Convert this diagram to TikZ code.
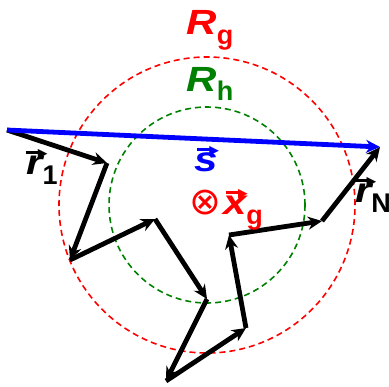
\documentclass[tikz,border=0pt]{standalone}
\usepackage{fontspec}
\setmainfont{Liberation Sans}
\newfontfamily\symfont{DejaVu Sans}
\usetikzlibrary{arrows.meta}
% wide italic letter, with an arrow over it for vectors
\newcommand{\wideletter}[1]{\scalebox{1.2}[1]{\itshape #1}}
\newcommand{\vecarrow}{\rule{0.42em}{0.08em}\kern-0.07em%
  \raisebox{-0.1em}{\scalebox{0.36}{\symfont ▶}}}
\newcommand{\vecsym}[1]{\ooalign{\wideletter{#1}\cr
  \hidewidth\kern0.12em\raisebox{0.58em}{\vecarrow}\hidewidth\cr}}
\newcommand{\lowsub}[1]{\raisebox{-0.28em}{\fontsize{13.5}{13.5}\selectfont\bfseries #1}}

\begin{document}
\begin{tikzpicture}[x=0.5pt, y=-0.5pt,
    ring/.style={line width=0.8pt, dash pattern=on 3pt off 2pt},
    walk/.style={-{Stealth[length=7pt, width=6.5pt]}, line width=2.4pt, black},
    total/.style={-{Stealth[length=7pt, width=6.5pt]}, line width=2.4pt, blue},
    label/.style={inner sep=0pt, font=\fontsize{17.5}{17.5}\selectfont\bfseries}
]
\useasboundingbox (0,0) rectangle (389,386);
% radii of gyration and of hydration
\coordinate (c) at (207,205);
\draw[ring, red] (c) circle[radius=74pt];
\draw[ring, green!50!black] (c) circle[radius=49pt];
% random walk
\coordinate (p0) at (7,130);
\coordinate (p1) at (107,163);
\coordinate (p2) at (70,260);
\coordinate (p3) at (155,219);
\coordinate (p4) at (207,299);
\coordinate (p5) at (166,381);
\coordinate (p6) at (246,328);
\coordinate (p7) at (229,235);
\coordinate (p8) at (322,221);
\coordinate (p9) at (380,147);
\draw[walk] (p0) -- (p1);
\draw[walk] (p1) -- (p2);
\draw[walk] (p2) -- (p3);
\draw[walk] (p3) -- (p4);
\draw[walk] (p4) -- (p5);
\draw[walk] (p5) -- (p6);
\draw[walk] (p6) -- (p7);
\draw[walk] (p7) -- (p8);
\draw[walk] (p8) -- (p9);
\draw[total] (p0) -- (p9);
% labels
\node[label, red] (rg) at (210,30) {\wideletter{R}\lowsub{g}};
\node[label, green!50!black] (rh) at (210,84) {\wideletter{R}\lowsub{h}};
\node[label, blue] (s) at (206,162) {\vecsym{s}};
\node[label, red] (xg) at (226,210)
  {{\symfont\mdseries\fontsize{19}{19}\selectfont ⊗}\kern1pt\vecsym{x}\lowsub{g}};
\node[label] (r1) at (42,170) {\vecsym{r}\lowsub{1}};
\node[label] (rN) at (373,198) {\vecsym{r}\lowsub{N}};
\end{tikzpicture}
\end{document}
